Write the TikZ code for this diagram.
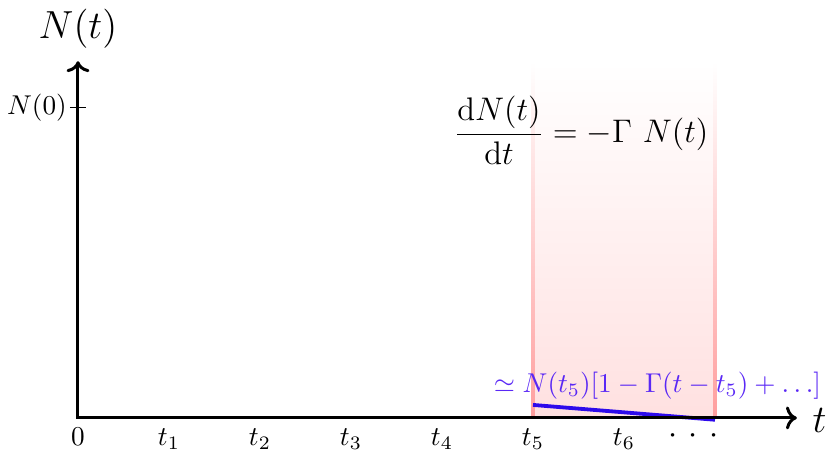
\documentclass[tikz,border=0pt]{standalone}
\usepackage{amsmath, amssymb}
\usepackage{xcolor}
\usetikzlibrary{arrows.meta}
\definecolor{blulinea}{RGB}{45,10,235}
\definecolor{blutesto}{RGB}{90,40,245}

\begin{document}
\begin{tikzpicture}[x=1.1755cm, y=1.1755cm]
\useasboundingbox (-0.857,-0.352) rectangle (8.220,4.593);

% Banda
\shade[top color=white, bottom color=red!12] (5,0) rectangle (7,3.91);
\shade[top color=white, bottom color=red!38] (4.985,0) rectangle (5.015,3.91);
\shade[top color=white, bottom color=red!38] (6.985,0) rectangle (7.015,3.91);

% Retta tangente
\coordinate (A) at (5,0.143);
\coordinate (B) at (7,-0.02);
\draw[blulinea, line width=1.4pt] (A) -- (B);

% Assi
\coordinate (O) at (0,0);
\coordinate (xmax) at (7.9,0);
\coordinate (ymax) at (0,3.92);
\draw[<->, line width=1.1pt] (ymax) -- (O) -- (xmax);
\node (tlab) at (8.15,-0.03) {\Large $t$};
\node[anchor=base] (Nlab) at (0,4.165) {\Large $N(t)$};

% N(0)
\coordinate (n0l) at (-0.088,3.41);
\coordinate (n0r) at (0.088,3.41);
\draw[line width=0.5pt] (n0l) -- (n0r);
\node[left, inner sep=1pt] (N0) at (n0l) {$N(0)$};

% Etichette
\node[anchor=base] (t0) at (0,-0.30) {$0$};
\foreach \i in {1,...,6}
  \node[anchor=base] (t\i) at (\i,-0.30) {$t_{\i}$};
\node[anchor=base] (tdots) at (6.76,-0.28) {\large $\cdotp\hspace{2.2pt}\cdotp\hspace{2.2pt}\cdotp$};

\node (eq) at (5.53,3.16) {\large $\displaystyle \frac{\mathrm{d}N(t)}{\mathrm{d}t} = -\Gamma\ N(t)$};
\node[blutesto] (approx) at (6.368,0.352) {$\simeq N(t_5)[1-\Gamma(t-t_5)+\ldots]$};
\end{tikzpicture}
\end{document}
